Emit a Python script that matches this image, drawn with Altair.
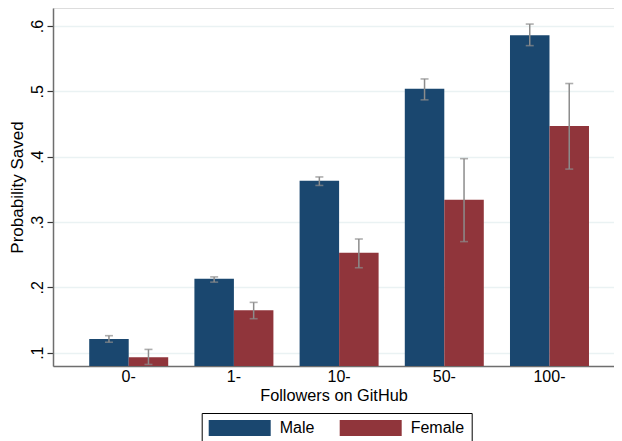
import altair as alt
import pandas as pd

categories = ["0-", "1-", "10-", "50-", "100-"]
groups = ["Male", "Female"]
male_mean = [0.121, 0.213, 0.363, 0.504, 0.586]
male_lo = [0.116, 0.208, 0.356, 0.487, 0.570]
male_hi = [0.126, 0.216, 0.369, 0.519, 0.603]
female_mean = [0.093, 0.165, 0.253, 0.334, 0.447]
female_lo = [0.082, 0.152, 0.230, 0.270, 0.381]
female_hi = [0.105, 0.177, 0.274, 0.397, 0.512]
y_ticks = [0.1, 0.2, 0.3, 0.4, 0.5, 0.6]
y_domain = [0.0796, 0.6276]
colors = ["#1a476f", "#90353b"]

rows = []
for i, c in enumerate(categories):
    rows.append({"followers": c, "gender": "Male", "mean": male_mean[i],
                 "lo": male_lo[i], "hi": male_hi[i], "base": y_domain[0]})
    rows.append({"followers": c, "gender": "Female", "mean": female_mean[i],
                 "lo": female_lo[i], "hi": female_hi[i], "base": y_domain[0]})
df = pd.DataFrame(rows)

FONT = "Liberation Sans"

x_enc = alt.X(
    "followers:N", sort=categories,
    scale=alt.Scale(paddingInner=0.249, paddingOuter=0.291, align=0.5915),
    axis=alt.Axis(title="Followers on GitHub", labelAngle=0, ticks=False,
                  labelFontSize=16, titleFontSize=16.3, labelPadding=2,
                  titlePadding=3, domainColor="#6e6e6e", domainWidth=1.5,
                  labelColor="black", titleColor="black",
                  titleFontWeight="normal", grid=False, labelFont=FONT,
                  titleFont=FONT),
)
xo_enc = alt.XOffset("gender:N", sort=groups,
                     scale=alt.Scale(paddingInner=0, paddingOuter=0))
y_scale = alt.Scale(domain=y_domain, nice=False, zero=False)

bars = alt.Chart(df).mark_bar().encode(
    x=x_enc,
    xOffset=xo_enc,
    y=alt.Y("mean:Q", scale=y_scale,
            axis=alt.Axis(title="Probability Saved", values=y_ticks,
                          labelExpr="replace(format(datum.value, '.1f'), '0.', '.')",
                          labelAngle=270, labelAlign="center",
                          labelBaseline="alphabetic", labelPadding=5,
                          tickSize=6, tickColor="#333333", tickWidth=1.2,
                          domainColor="#6e6e6e", domainWidth=1.5,
                          grid=True, gridColor="#eaf2f3", gridWidth=1.5,
                          labelFontSize=16, titleFontSize=17,
                          labelColor="black", titleColor="black",
                          titleFontWeight="normal", titleX=-36,
                          titleBaseline="middle",
                          labelFont=FONT, titleFont=FONT)),
    y2="base:Q",
    color=alt.Color("gender:N", sort=groups,
                    scale=alt.Scale(domain=groups, range=colors),
                    legend=alt.Legend(
                        title=None, orient="none", legendX=148.7, legendY=405,
                        direction="horizontal",
                        symbolType="M-3.875,-1H3.875V1H-3.875Z",
                        symbolSize=256, symbolStrokeWidth=0, symbolOpacity=1,
                        symbolOffset=23, labelOffset=32,
                        labelFontSize=16, labelFont=FONT, labelColor="black",
                        strokeColor="black", fillColor="white", padding=7,
                        columnPadding=25)),
)

rules = alt.Chart(df).mark_rule(color="#8c8c8c", strokeWidth=1.5).encode(
    x=alt.X("followers:N", sort=categories),
    xOffset=alt.XOffset("gender:N", sort=groups),
    y=alt.Y("lo:Q", scale=y_scale),
    y2="hi:Q",
)

caps = alt.Chart(df).transform_fold(["lo", "hi"], as_=["end", "val"]).mark_tick(
    color="#8c8c8c", orient="horizontal", size=8, thickness=1.6
).encode(
    x=alt.X("followers:N", sort=categories),
    xOffset=alt.XOffset("gender:N", sort=groups),
    y=alt.Y("val:Q", scale=y_scale),
)

chart = alt.layer(bars, rules, caps).properties(
    width=561, height=358,
    autosize=alt.AutoSizeParams(type="none"),
    padding={"left": 45, "top": 0, "right": 0, "bottom": 75},
).configure_view(stroke=None).configure(font=FONT)

chart.save("out.html", embed_options={"renderer": "svg", "actions": False})
